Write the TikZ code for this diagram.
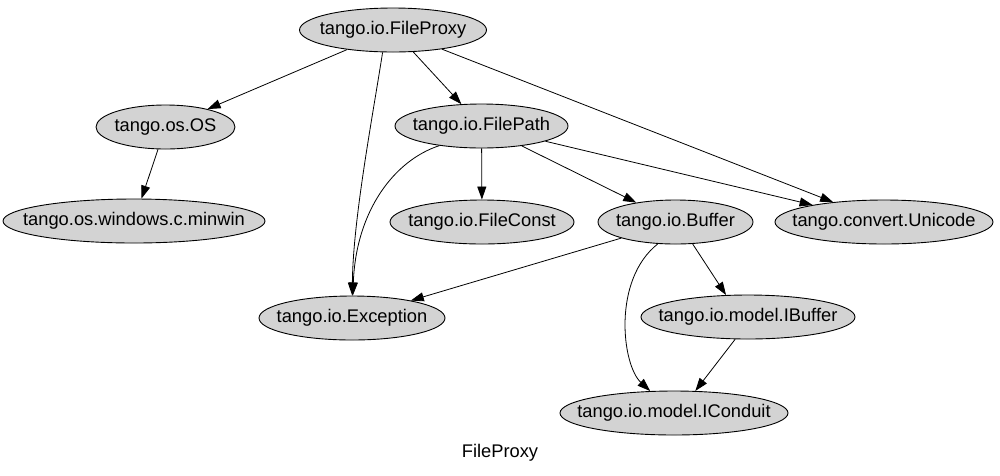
\documentclass[tikz,border=0pt]{standalone}
\usepackage{fontspec}
\setmainfont{Liberation Sans}
\usetikzlibrary{shapes.geometric,arrows.meta}
\definecolor{nodegray}{HTML}{D3D3D3}
\newcommand{\zw}[1]{\makebox[0pt][c]{#1}}
\begin{document}
\begin{tikzpicture}[x=1pt,y=-1pt,
  cls/.style={ellipse,draw=black,fill=nodegray,line width=0.9pt,inner sep=0pt,
    minimum height=44pt,font=\fontsize{18.3}{20}\selectfont},
  dep/.style={draw=black,line width=0.8pt,-{Triangle[length=13pt,width=9pt]}},
  titlestyle/.style={font=\fontsize{18.3}{20}\selectfont,inner sep=0pt}]
\useasboundingbox (0,0) rectangle (1000,475);
\node[cls,minimum width=187pt] (fp)     at (393,30)    {\zw{tango.io.FileProxy}};
\node[cls,minimum width=139pt] (os)     at (165.5,127) {\zw{tango.os.OS}};
\node[cls,minimum width=173pt] (fpath)  at (481.5,126) {\zw{tango.io.FilePath}};
\node[cls,minimum width=262pt] (minwin) at (134,221)   {\zw{tango.os.windows.c.minwin}};
\node[cls,minimum width=184pt] (fconst) at (482,222)   {\zw{tango.io.FileConst}};
\node[cls,minimum width=155pt] (buf)    at (675.5,222) {\zw{tango.io.Buffer}};
\node[cls,minimum width=218pt] (uni)    at (884,222)   {\zw{tango.convert.Unicode}};
\node[cls,minimum width=186pt] (exc)    at (352,318)   {\zw{tango.io.Exception}};
\node[cls,minimum width=214pt] (ibuf)   at (748,317)   {\zw{tango.io.model.IBuffer}};
\node[cls,minimum width=228pt] (icond)  at (674,413)   {\zw{tango.io.model.IConduit}};
\node[titlestyle] (title) at (500,453) {FileProxy};

\draw[dep] (fp) -- (os);
\draw[dep] (fp.245) .. controls (372,120) and (353,220) .. (exc);
\draw[dep] (fp) -- (fpath);
\draw[dep] (fp) -- (uni);
\draw[dep] (os) -- (minwin);
\draw[dep] (fpath.205) .. controls (395,160) and (356,210) .. (exc);
\draw[dep] (fpath) -- (fconst);
\draw[dep] (fpath) -- (buf);
\draw[dep] (fpath) -- (uni);
\draw[dep] (buf) -- (exc);
\draw[dep] (buf.308) -- (ibuf.135);
\draw[dep] (buf.231) .. controls (612,280) and (622,365) .. (icond);
\draw[dep] (ibuf.240) -- (icond.46);
\end{tikzpicture}
\end{document}
